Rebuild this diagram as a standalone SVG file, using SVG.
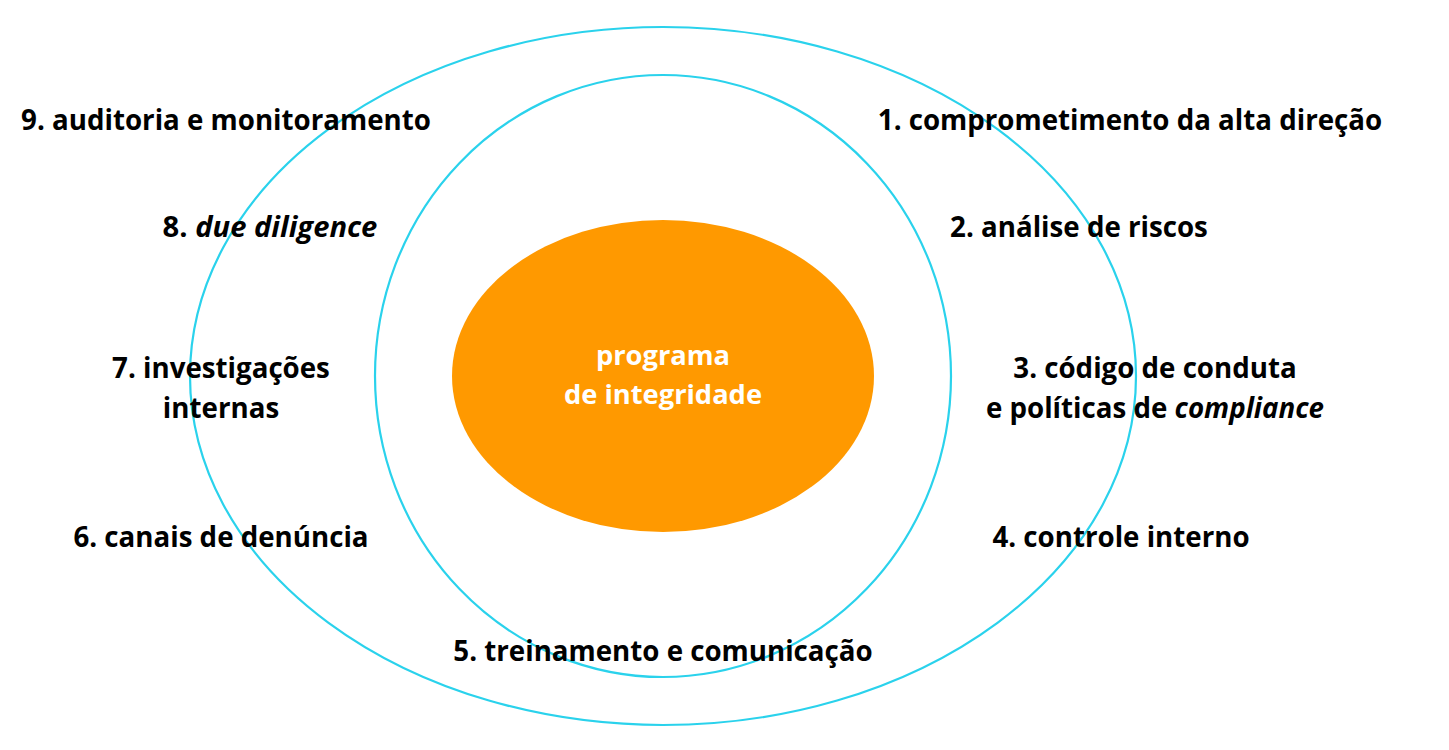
<svg xmlns="http://www.w3.org/2000/svg" width="1449" height="750" viewBox="0 0 1449 750">
<style>
.ring{fill:none;stroke:#2ad2ec;stroke-width:2.2}
.t{font-family:"Open Sans","Noto Sans","DejaVu Sans",sans-serif;font-weight:bold;font-size:27.7px;fill:#000;text-anchor:middle}
.w{fill:#fff;font-size:27.3px}
</style>
<rect width="1449" height="750" fill="#fff"/>
<g id="outer-ring"><ellipse class="ring" cx="663" cy="376" rx="473" ry="349"/></g>
<g id="middle-ring"><ellipse class="ring" cx="663" cy="376" rx="288" ry="301"/></g>
<g id="center"><ellipse cx="663" cy="376" rx="211" ry="156" fill="#ff9900"/>
<text class="t w" x="663" y="365">programa</text>
<text class="t w" x="663" y="404">de integridade</text></g>
<g id="n1"><text class="t" x="1130" y="130">1. comprometimento da alta direção</text></g>
<g id="n2"><text class="t" x="1079" y="237">2. análise de riscos</text></g>
<g id="n3"><text class="t" x="1155" y="378">3. código de conduta</text>
<text class="t" x="1155" y="418">e políticas de <tspan font-style="italic">compliance</tspan></text></g>
<g id="n4"><text class="t" x="1121" y="547">4. controle interno</text></g>
<g id="n5"><text class="t" x="663" y="661">5. treinamento e comunicação</text></g>
<g id="n6"><text class="t" x="221" y="547">6. canais de denúncia</text></g>
<g id="n7"><text class="t" x="221" y="378">7. investigações</text>
<text class="t" x="221" y="418">internas</text></g>
<g id="n8"><text class="t" x="270" y="237" style="font-size:29.2px">8. <tspan font-style="italic">due diligence</tspan></text></g>
<g id="n9"><text class="t" x="226" y="130">9. auditoria e monitoramento</text></g>
<g id="connectors"></g>
</svg>
